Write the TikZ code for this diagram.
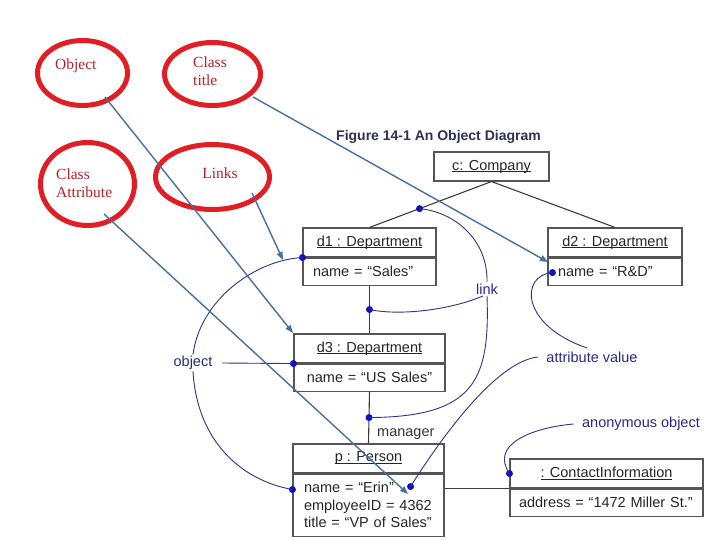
\documentclass[tikz,border=0pt]{standalone}
\usepackage{fontspec}
\setmainfont{Liberation Sans}
\newfontfamily\annfont{Liberation Serif}
\usetikzlibrary{shapes.geometric,arrows.meta,calc}
\definecolor{boxline}{RGB}{85,85,85}
\definecolor{connline}{RGB}{60,60,60}
\definecolor{navy}{RGB}{50,50,135}
\definecolor{navytext}{RGB}{40,40,140}
\definecolor{dotblue}{RGB}{15,15,195}
\definecolor{annred}{RGB}{225,30,35}
\definecolor{anntext}{RGB}{175,35,45}
\definecolor{steel}{RGB}{70,112,160}
\definecolor{titlecol}{RGB}{45,50,85}
\newcommand{\ulin}[1]{\setbox0\hbox{#1}\rlap{\rule[-2pt]{\wd0}{0.8pt}}\box0}
\begin{document}
\begin{tikzpicture}[x=1pt,y=-1pt,
  boxfont/.style={font=\fontsize{14.5}{17.5}\selectfont},
  objtitle/.style={draw=boxline, line width=1.1pt, fill=white, inner sep=0pt,
    minimum height=29pt, boxfont, text=black!85},
  objattr/.style={draw=boxline, line width=1.1pt, fill=white, inner xsep=10pt,
    inner ysep=0pt, align=left, boxfont, text=black!85, anchor=north},
  conn/.style={draw=connline, line width=1.1pt},
  dot/.style={circle, fill=dotblue, inner sep=0pt, minimum size=7pt},
  callout/.style={draw=navy, line width=0.9pt},
  lbl/.style={boxfont, text=navytext, inner sep=1.5pt},
  annell/.style={ellipse, draw=annred, line width=5pt, inner sep=0pt},
  anntxt/.style={font=\annfont\fontsize{15.5}{18}\selectfont, text=anntext,
    inner sep=0pt, align=left},
  annarrow/.style={draw=steel, line width=1.4pt, -{Triangle[length=8pt,width=6pt]}}
]
\useasboundingbox (0,0) rectangle (720,540);
\fill[white] (0,0) rectangle (720,540);

% title
\node[font=\bfseries\fontsize{14}{16}\selectfont, text=titlecol] (fig) at (438.5,137) {Figure 14-1 An Object Diagram};

% object boxes
\node[objtitle, minimum width=115pt] (c) at (491.5,166.5) {\ulin{c: Company}};

\node[objtitle, minimum width=133pt] (d1) at (369.5,242.5) {\ulin{d1 : Department}};
\node[objattr, text width=113pt, minimum height=27pt] (d1a) at (d1.south) {name = “Sales”};

\node[objtitle, minimum width=134pt] (d2) at (615,242.5) {\ulin{d2 : Department}};
\node[objattr, text width=114pt, minimum height=27pt] (d2a) at (d2.south) {name = “R\&D”};

\node[objtitle, minimum width=151pt] (d3) at (369.5,348.5) {\ulin{d3 : Department}};
\node[objattr, text width=133pt, inner xsep=9pt, minimum height=27pt] (d3a) at (d3.south) {\hfil name = “US Sales”\hfil};

\node[objtitle, minimum width=151pt] (p) at (368.5,458.5) {\ulin{p : Person}};
\node[objattr, text width=129pt, inner xsep=11pt, minimum height=62pt] (pa) at (p.south) {name = “Erin”\\employeeID = 4362\\title = “VP of Sales”};

\node[objtitle, minimum width=193pt] (ct) at (606.5,473.5) {\ulin{: ContactInformation}};
\node[objattr, text width=175pt, inner xsep=9pt, minimum height=27pt] (cta) at (ct.south) {address = “1472 Miller St.”};

% links between objects
\draw[conn] (c.south) -- (d1.north) node[pos=0.59, dot] (dc) {};
\draw[conn] (c.south) -- (d2.north);
\draw[conn] (d1a.south) -- (d3.north) node[midway, dot] (dl1) {};
\draw[conn] (d3a.south) -- (p.north) node[midway, dot] (dl2) {};
\draw[conn] (ct.south west) -- (ct.south west -| pa.east);
\node[boxfont, text=black!80, anchor=west, inner sep=0pt] (mgr) at (377,434) {manager};

% dots on objects
\node[dot] (dd1) at (d1.south west) {};
\node[dot] (dd3) at (d3.south west) {};
\node[dot] (dpn) at ($(pa.north west)+(0,16)$) {};
\node[dot] (dd2) at ($(d2a.west)+(5,1)$) {};
\node[dot] (dpn2) at ($(pa.north east)+(-34,13)$) {};
\node[dot] (dct) at (ct.west) {};

% callout labels
\node[lbl] (objl) at (193,363) {object};
\node[lbl] (linkl) at (487,289) {link};
\node[lbl] (attl) at (592,357) {attribute value};
\node[lbl] (anonl) at (641,424) {anonymous object};

% callout curves
\draw[callout] (dd1.center) .. controls (255,260) and (200,300) .. (objl.north);
\draw[callout] (objl.south) .. controls (197,440) and (240,480) .. (dpn.center);
\draw[callout] ([xshift=8pt]objl.east) -- (dd3.center);

\draw[callout] (dc.center) .. controls (455,212) and (488,240) .. (linkl.north);
\draw[callout] (dl1.center) .. controls (400,316) and (450,310) .. ([xshift=-4pt]linkl.south);
\draw[callout] (linkl.south) .. controls (490,380) and (475,417) .. (dl2.center);

\draw[callout] (dd2.center) .. controls (520,275) and (520,325) .. ([xshift=-5pt,yshift=2pt]attl.north);
\draw[callout] ([xshift=-7pt]attl.west) .. controls (495,362) and (440,440) .. (dpn2.center);

\draw[callout] ([xshift=-7pt]anonl.west) .. controls (530,428) and (490,445) .. (dct.center);

% annotation ellipses and texts
\node[annell, minimum width=90pt, minimum height=65pt] (eobj) at (82.5,73) {};
\node[annell, minimum width=96pt, minimum height=63pt] (etitle) at (212.5,74) {};
\node[annell, minimum width=94pt, minimum height=83pt] (eattr) at (87.5,184) {};
\node[annell, minimum width=114pt, minimum height=65pt] (elinks) at (212.5,177) {};

\node[anntxt, anchor=west] (tobj) at (55,66) {Object};
\node[anntxt, anchor=north west] (ttitle) at (193,57) {Class\\title};
\node[anntxt, anchor=north west] (tattr) at (56,169) {Class\\Attribute};
\node[anntxt] (tlinks) at (220,173) {Links};

% annotation arrows
\coordinate (aobjs) at (105,97);
\coordinate (aobje) at (293,333);
\coordinate (atits) at (253,97);
\coordinate (atite) at (548,262);
\coordinate (aatts) at (104,214);
\coordinate (aatte) at (408,494);
\coordinate (alnks) at (252,193);
\coordinate (alnke) at (283,260);
\draw[annarrow] (aobjs) -- (aobje);
\draw[annarrow] (atits) -- (atite);
\draw[annarrow] (aatts) -- (aatte);
\draw[annarrow] (alnks) -- (alnke);
\end{tikzpicture}
\end{document}
